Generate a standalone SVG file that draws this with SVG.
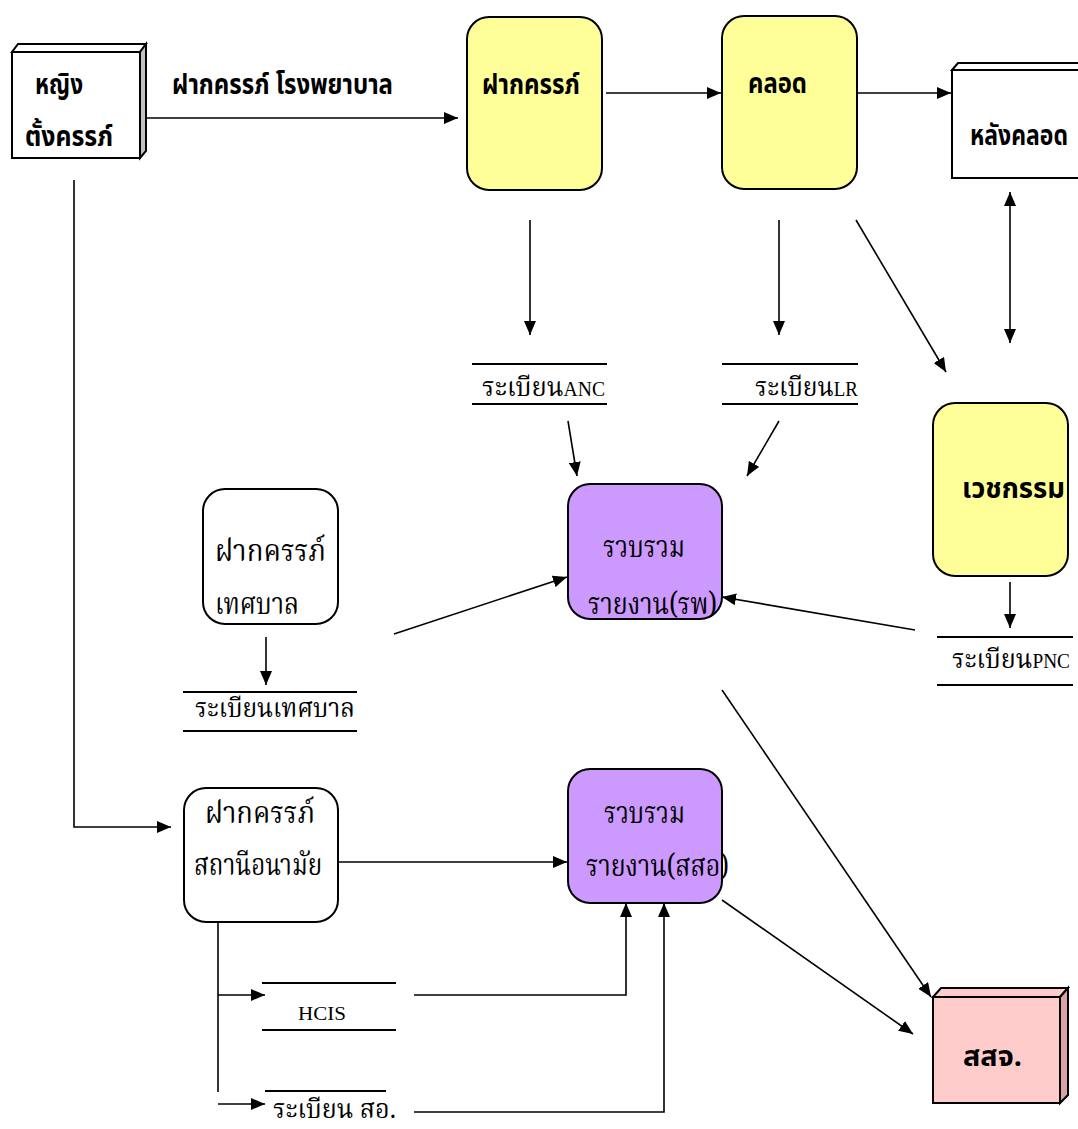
<svg xmlns="http://www.w3.org/2000/svg" width="1078" height="1129" viewBox="0 0 1078 1129">
<style>
.bx{stroke:#000;stroke-width:2}
.y{fill:#ffff99}
.p{fill:#cc99ff}
.w{fill:#fff}
.ln{stroke:#000;stroke-width:2;fill:none}
.c{stroke:#000;stroke-width:1.6;fill:none}
.ca{stroke:#000;stroke-width:1.6;fill:none;marker-end:url(#ah)}
.b{font-family:"Noto Sans Thai","Tahoma","DejaVu Sans",sans-serif;font-weight:bold;font-size:28px;fill:#000}
.r{font-family:"Noto Serif Thai","Noto Sans Thai","DejaVu Serif",serif;font-size:31px;fill:#000}
.s{font-family:"Noto Serif Thai","Noto Sans Thai","DejaVu Serif",serif;font-size:26px;fill:#000}
.e{font-family:"Liberation Serif",serif;font-size:20px}
.h{font-family:"Liberation Serif",serif;font-size:18px}
</style>
<defs>
<marker id="ah" viewBox="0 0 14 12" refX="14" refY="6" markerWidth="14" markerHeight="12" markerUnits="userSpaceOnUse" orient="auto">
<path d="M0,0 L14,6 L0,12 Z" fill="#000"/>
</marker>
<marker id="as" viewBox="0 0 14 12" refX="0" refY="6" markerWidth="14" markerHeight="12" markerUnits="userSpaceOnUse" orient="auto">
<path d="M14,0 L0,6 L14,12 Z" fill="#000"/>
</marker>
</defs>

<g id="connectors">
<line class="ca" x1="147" y1="118" x2="458" y2="118"/>
<line class="ca" x1="606" y1="93" x2="721" y2="93"/>
<line class="ca" x1="857" y1="93" x2="951" y2="93"/>
<line class="c" x1="1010" y1="192" x2="1010" y2="343" marker-start="url(#as)" marker-end="url(#ah)"/>
<line class="ca" x1="530" y1="220" x2="530" y2="335"/>
<line class="ca" x1="779" y1="220" x2="779" y2="335"/>
<line class="ca" x1="856" y1="220" x2="946" y2="372"/>
<line class="ca" x1="568" y1="421" x2="577" y2="476"/>
<line class="ca" x1="779" y1="421" x2="747" y2="476"/>
<line class="ca" x1="1010" y1="582" x2="1010" y2="628"/>
<line class="ca" x1="915" y1="630" x2="722" y2="597"/>
<line class="ca" x1="266" y1="637" x2="266" y2="685"/>
<line class="ca" x1="394" y1="634" x2="567" y2="577"/>
<polyline class="ca" points="74,180 74,827 171,827"/>
<line class="ca" x1="338" y1="862" x2="567" y2="862"/>
<line class="c" x1="218" y1="922" x2="218" y2="1092"/>
<line class="ca" x1="218" y1="995" x2="265" y2="995"/>
<line class="ca" x1="218" y1="1104" x2="265" y2="1104"/>
<polyline class="ca" points="414,995 626,995 626,903"/>
<polyline class="ca" points="414,1112 664,1112 664,903"/>
<line class="ca" x1="722" y1="690" x2="931" y2="997"/>
<line class="ca" x1="722" y1="900" x2="913" y2="1034"/>
</g>

<g id="n-woman">
<polygon class="bx" points="12,52 18,44 146,44 140,52" fill="#fff"/>
<polygon class="bx" points="140,52 146,44 146,151 140,158" fill="#c0c0c0"/>
<rect class="bx w" x="12" y="52" width="128" height="106"/>
<text class="b" x="35" y="94" textLength="48" lengthAdjust="spacingAndGlyphs">หญิง</text>
<text class="b" x="25" y="146" textLength="88" lengthAdjust="spacingAndGlyphs">ตั้งครรภ์</text>
</g>

<g id="l-hosp">
<text class="b" x="172" y="94" textLength="221" lengthAdjust="spacingAndGlyphs">ฝากครรภ์ โรงพยาบาล</text>
</g>

<g id="n-anc">
<rect class="bx y" x="467" y="17" width="135" height="173" rx="22"/>
<text class="b" x="482" y="94" textLength="98" lengthAdjust="spacingAndGlyphs">ฝากครรภ์</text>
</g>

<g id="n-labor">
<rect class="bx y" x="722" y="16" width="135" height="173" rx="22"/>
<text class="b" x="748" y="93" textLength="59" lengthAdjust="spacingAndGlyphs">คลอด</text>
</g>

<g id="n-post">
<polygon class="bx" points="952,70 958,63 1080,63 1080,70" fill="#fff"/>
<rect class="bx w" x="952" y="70" width="130" height="108"/>
<text class="b" x="970" y="145" textLength="98" lengthAdjust="spacingAndGlyphs">หลังคลอด</text>
</g>

<g id="s-anc">
<line class="ln" x1="472" y1="364" x2="607" y2="364"/>
<line class="ln" x1="472" y1="404" x2="607" y2="404"/>
<text class="s" x="482" y="396" textLength="123" lengthAdjust="spacingAndGlyphs">ระเบียน<tspan class="e">ANC</tspan></text>
</g>

<g id="s-lr">
<line class="ln" x1="722" y1="364" x2="858" y2="364"/>
<line class="ln" x1="722" y1="404" x2="858" y2="404"/>
<text class="s" x="755" y="396" textLength="103" lengthAdjust="spacingAndGlyphs">ระเบียน<tspan class="e">LR</tspan></text>
</g>

<g id="n-hosp-report">
<rect class="bx p" x="568" y="484" width="154" height="135" rx="22"/>
<text class="r" x="603" y="557" textLength="82" lengthAdjust="spacingAndGlyphs">รวบรวม</text>
<text class="r" x="588" y="614" textLength="129" lengthAdjust="spacingAndGlyphs">รายงาน(รพ)</text>
</g>

<g id="n-med">
<rect class="bx y" x="933" y="403" width="135" height="173" rx="22"/>
<text class="b" x="962" y="498" textLength="103" lengthAdjust="spacingAndGlyphs">เวชกรรม</text>
</g>

<g id="s-pnc">
<line class="ln" x1="937" y1="637" x2="1073" y2="637"/>
<line class="ln" x1="937" y1="685" x2="1073" y2="685"/>
<text class="s" x="952" y="668" textLength="118" lengthAdjust="spacingAndGlyphs">ระเบียน<tspan class="e">PNC</tspan></text>
</g>

<g id="n-muni">
<rect class="bx w" x="203" y="489" width="135" height="135" rx="22"/>
<text class="r" x="215" y="561" textLength="111" lengthAdjust="spacingAndGlyphs">ฝากครรภ์</text>
<text class="r" x="215" y="614" textLength="84" lengthAdjust="spacingAndGlyphs">เทศบาล</text>
</g>

<g id="s-muni">
<line class="ln" x1="183" y1="692" x2="357" y2="692"/>
<line class="ln" x1="183" y1="731" x2="357" y2="731"/>
<text class="s" x="195" y="717" textLength="160" lengthAdjust="spacingAndGlyphs">ระเบียนเทศบาล</text>
</g>

<g id="n-station">
<rect class="bx w" x="184" y="788" width="154" height="134" rx="22"/>
<text class="r" x="205" y="823" textLength="110" lengthAdjust="spacingAndGlyphs">ฝากครรภ์</text>
<text class="r" x="194" y="875" textLength="128" lengthAdjust="spacingAndGlyphs">สถานีอนามัย</text>
</g>

<g id="n-dist-report">
<rect class="bx p" x="568" y="769" width="154" height="134" rx="22"/>
<text class="r" x="604" y="823" textLength="81" lengthAdjust="spacingAndGlyphs">รวบรวม</text>
<text class="r" x="586" y="876" textLength="143" lengthAdjust="spacingAndGlyphs">รายงาน(สสอ)</text>
</g>

<g id="s-hcis">
<line class="ln" x1="262" y1="983" x2="396" y2="983"/>
<line class="ln" x1="262" y1="1030" x2="396" y2="1030"/>
<text class="h" x="298" y="1020" textLength="48" lengthAdjust="spacingAndGlyphs">HCIS</text>
</g>

<g id="s-station">
<line class="ln" x1="265" y1="1091" x2="386" y2="1091"/>
<text class="s" x="273" y="1118" textLength="123" lengthAdjust="spacingAndGlyphs">ระเบียน สอ.</text>
</g>

<g id="n-ppho">
<polygon class="bx" points="933,997 941,988 1068,988 1060,997" fill="#ffcccc"/>
<polygon class="bx" points="1060,997 1068,988 1068,1095 1060,1103" fill="#d9a3a3"/>
<rect class="bx" x="933" y="997" width="127" height="106" fill="#ffcccc"/>
<text class="b" x="963" y="1066" textLength="59" lengthAdjust="spacingAndGlyphs">สสจ.</text>
</g>
</svg>
